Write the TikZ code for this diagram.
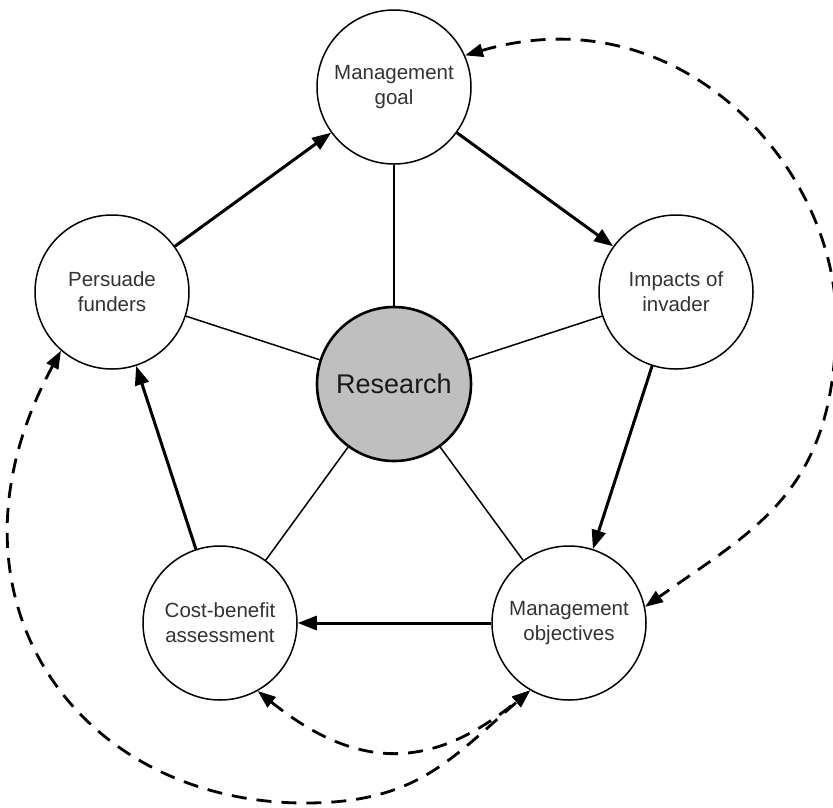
\documentclass[tikz,border=0pt]{standalone}
\usepackage{fontspec}
\setmainfont{Liberation Sans}
\usetikzlibrary{arrows.meta}
\begin{document}
\begin{tikzpicture}[x=1pt,y=-1pt,
  outer/.style={circle,draw,line width=1.5pt,fill=white,minimum size=154pt,inner sep=0pt,align=center,text=black!80,font=\fontsize{20.5}{25}\selectfont},
  hubnode/.style={circle,draw,line width=2.6pt,fill=black!25,minimum size=154pt,inner sep=0pt,text=black!90,font=\fontsize{27}{32}\selectfont},
  flow/.style={line width=3pt,-{Triangle[length=19pt,width=14pt]}},
  spoke/.style={line width=1.5pt},
  loopline/.style={line width=2.8pt,dash pattern=on 15pt off 10pt,{Triangle[length=18pt,width=13pt]}-{Triangle[length=18pt,width=13pt]}}
]
\useasboundingbox (0,0) rectangle (833,807);
\clip (0,0) rectangle (833,807);
\node[hubnode] (r) at (394,384) {Research};
\node[outer] (g) at (394,87) {Management\\goal};
\node[outer] (i) at (676,292) {Impacts of\\invader};
\node[outer] (o) at (569,623) {Management\\objectives};
\node[outer] (c) at (220,623) {Cost-benefit\\assessment};
\node[outer] (p) at (112,292) {Persuade\\funders};
\foreach \n in {g,i,o,c,p} \draw[spoke] (r) -- (\n);
\draw[flow] (p) -- (g);
\draw[flow] (g) -- (i);
\draw[flow] (i) -- (o);
\draw[flow] (o) -- (c);
\draw[flow] (c) -- (p);
\draw[loopline] (g.24) .. controls (683,-8) and (836,170) .. (836,320) .. controls (836,490) and (758,527) .. (o.12);
\draw[loopline] (c.-61) .. controls (357,771) and (432,771) .. (o.-120);
\draw[loopline] (p.-131) .. controls (-72,594) and (75,803) .. (305,803) .. controls (415,803) and (449,761) .. (o.-120);
\end{tikzpicture}
\end{document}
